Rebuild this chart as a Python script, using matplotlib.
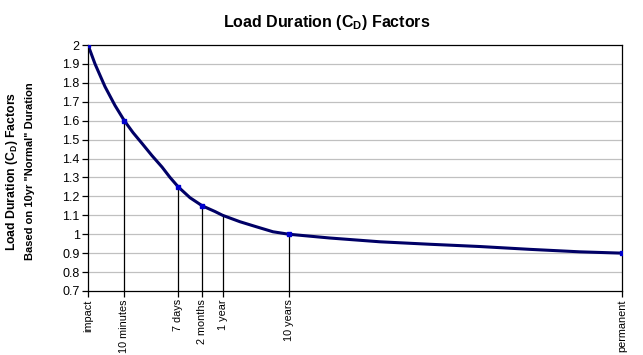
import numpy as np
import matplotlib.pyplot as plt

plt.rcParams['font.family'] = ['Liberation Sans', 'DejaVu Sans']
plt.rcParams['mathtext.fontset'] = 'custom'
plt.rcParams['mathtext.rm'] = 'Liberation Sans'
plt.rcParams['mathtext.bf'] = 'Liberation Sans:bold'

# duration position along the x axis (0 = impact, 100 = permanent)
curve_x = [0, 1.31, 3.18, 5.06, 6.8, 8.43, 10.11, 11.99, 13.86, 15.36, 16.9, 19.1,
           21.4, 23.78, 25.2, 28.46, 31.46, 34.64, 37.6, 45.3, 54.7, 64.0, 73.4,
           82.8, 92.1, 100]
curve_cd = [2.0, 1.90, 1.78, 1.68, 1.6, 1.537, 1.48, 1.415, 1.355, 1.30, 1.25, 1.193,
            1.15, 1.12, 1.10, 1.066, 1.04, 1.013, 1.0, 0.98, 0.96, 0.947, 0.935,
            0.92, 0.907, 0.9]

# named durations
dur_labels = ['impact', '10 minutes', '7 days', '2 months', '1 year', '10 years', 'permanent']
dur_x = [0, 6.8, 16.9, 21.4, 25.2, 37.6, 100]
dur_cd = [2.0, 1.6, 1.25, 1.15, 1.10, 1.0, 0.9]
has_marker = [True, True, True, True, False, True, True]

fig = plt.figure(figsize=(6.43, 3.55), dpi=100)
ax = fig.add_axes([0.1369, 0.1803, 0.8304, 0.6929])

ax.set_xlim(0, 100)
ax.set_ylim(0.7, 2.0)

for yv in np.arange(0.8, 2.0, 0.1):
    ax.axhline(yv, color='#c0c0c0', lw=0.9, zorder=0)

# drop lines from the named points down to the axis
for xv, yv, lab in zip(dur_x, dur_cd, dur_labels):
    if lab in ('impact', 'permanent'):
        continue
    ax.plot([xv, xv], [0.7, yv], color='black', lw=0.9, zorder=1)

ax.plot(curve_x, curve_cd, color='#000066', lw=2.2, zorder=2,
        solid_capstyle='round', solid_joinstyle='round')
mx = [x for x, m in zip(dur_x, has_marker) if m]
my = [y for y, m in zip(dur_cd, has_marker) if m]
ax.plot(mx, my, 's', color='#0000cc', ms=3.2, zorder=3)

yt = np.round(np.arange(0.7, 2.01, 0.1), 1)
ax.set_yticks(yt)
ax.set_yticklabels([f'{v:g}' for v in yt], fontsize=9)
ax.set_xticks(dur_x)
ax.set_xticklabels(dur_labels, rotation=90, fontsize=7.8)
ax.tick_params(length=4, width=0.9, pad=2, color='black')

for s in ax.spines.values():
    s.set_color('black')
    s.set_linewidth(0.9)

fig.text(0.508, 0.937, r'Load Duration (C$_\mathbf{D}$) Factors', ha='center', va='center',
         fontsize=11.5, fontweight='bold')
fig.text(0.019, 0.518, r'Load Duration (C$_\mathbf{D}$) Factors', rotation=90, ha='center',
         va='center', fontsize=8.8, fontweight='bold')
fig.text(0.047, 0.518, 'Based on 10yr "Normal" Duration', rotation=90, ha='center',
         va='center', fontsize=8, fontweight='bold')

fig.savefig('out.png', dpi=100)
